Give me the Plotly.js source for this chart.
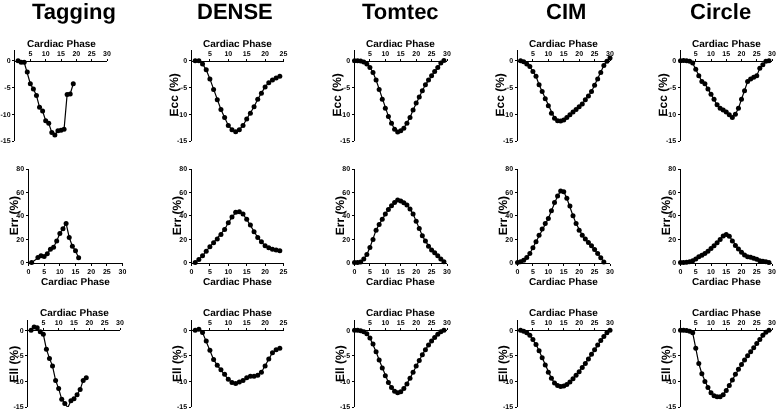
<!DOCTYPE html>
<html><head><meta charset="utf-8">
<script src="https://cdn.plot.ly/plotly-3.0.1.min.js"></script>
<style>html,body{margin:0;padding:0;background:#fff}#chart{will-change:transform}#chart text{text-rendering:geometricPrecision}</style>
</head><body><div id="chart" style="width:778px;height:413px"></div>
<script>
const methods = ["Tagging", "DENSE", "Tomtec", "CIM", "Circle"];
const strainLabels = ["Ecc (%)", "Err (%)", "Ell (%)"];
const xAxisLabel = "Cardiac Phase";

// Tagging
const taggingEccPhase = [1,2,3,4,5,6,7,8,9,10,11,12,13,14,15,16,17,18,19];
const taggingEcc = [0,-0.3,-0.3,-2.1,-4.3,-5.3,-6.5,-8.7,-9.4,-11.2,-11.7,-13.4,-13.9,-13.1,-13.0,-12.8,-6.3,-6.2,-4.3];
const taggingErrPhase = [1,3,4,5,6,7,8,9,10,11,12,13,14,15,16];
const taggingErr = [0,4.3,5.7,5.1,7.4,11.4,13.1,18.3,24.9,28.9,33.4,21.4,14,10,4];
const taggingEllPhase = [1,2,3,4,5,6,7,8,9,10,11,12,13,14,15,16,17,18,19];
const taggingEll = [0,0.65,0.5,-0.3,-0.8,-3.7,-5.5,-7.0,-9.8,-11.4,-13.5,-14.3,-15.1,-13.8,-13.4,-12.6,-11.6,-9.8,-9.3];

// DENSE
const densePhase = [1,2,3,4,5,6,7,8,9,10,11,12,13,14,15,16,17,18,19,20,21,22,23,24];
const denseEcc = [0,0,-0.6,-1.7,-3.4,-5.4,-7.3,-9.1,-10.6,-12.1,-12.9,-13.25,-12.9,-12.1,-10.9,-9.8,-8.6,-7.2,-6.1,-4.9,-4.1,-3.6,-3.25,-2.9];
const denseErr = [0,2.6,5.7,9.7,13.4,16.9,20,24,28.3,34,39,42.9,43.4,41.4,36.9,32,26.3,21.4,17.7,14.3,12.6,11.4,10.6,10];
const denseEll = [0,0.2,-0.45,-2.1,-3.9,-5.7,-6.85,-7.7,-8.6,-9.6,-10.2,-10.4,-10.1,-9.8,-9.3,-9.0,-9.0,-8.8,-8.2,-7.0,-5.6,-4.4,-3.8,-3.5];

// Tomtec
const tomtecPhase = [0,1,2,3,4,5,6,7,8,9,10,11,12,13,14,15,16,17,18,19,20,21,22,23,24,25,26,27,28,29];
const tomtecEcc = [0,0,-0.05,-0.25,-0.6,-1.25,-2.2,-3.6,-5.4,-7.2,-8.9,-10.4,-11.7,-12.8,-13.3,-13.1,-12.6,-11.7,-10.6,-9.2,-7.9,-6.8,-5.6,-4.5,-3.6,-2.8,-2.0,-1.25,-0.45,0.05];
const tomtecErr = [0,0,0.5,2.9,6.9,12.9,19.7,27.7,32.6,36.9,41.4,45.4,48.6,51.4,53.4,52.6,51.1,49.1,45.7,41.4,35.4,29.1,22.9,18.3,14,10.6,8.3,5.7,2.9,0.6];
const tomtecEll = [0,0,-0.1,-0.3,-0.7,-1.5,-2.7,-4.2,-5.8,-7.4,-8.9,-10.2,-11.2,-11.9,-12.2,-12.0,-11.4,-10.5,-9.4,-8.2,-7.0,-5.9,-4.8,-3.8,-2.9,-2.1,-1.4,-0.8,-0.3,0];

// CIM
const cimPhase = [1,2,3,4,5,6,7,8,9,10,11,12,13,14,15,16,17,18,19,20,21,22,23,24,25,26,27,28,29,30];
const cimEcc = [0,-0.2,-0.6,-1.1,-2.0,-2.9,-4.5,-5.75,-7.1,-8.4,-9.8,-10.75,-11.2,-11.25,-11.1,-10.6,-10.1,-9.6,-9.1,-8.6,-8.1,-7.3,-6.6,-5.75,-4.6,-3.4,-2.2,-0.9,-0.1,0.5];
const cimErrPhase = [0,1,2,3,4,5,6,7,8,9,10,11,12,13,14,15,16,17,18,19,20,21,22,23,24,25,26,27,28];
const cimErr = [0,0.6,2,4.3,7.7,12.6,17.7,23.4,28.6,33.4,37.7,44.3,51.4,56.9,61.1,60.6,54.9,48.3,40,33.4,27.7,23.4,20,17.1,14.3,11.1,7.7,4,0.5];
const cimEll = [0,-0.2,-0.5,-1,-1.8,-2.8,-4,-5.4,-6.8,-8.2,-9.4,-10.3,-10.8,-11,-10.9,-10.6,-10.1,-9.5,-8.8,-8.1,-7.3,-6.5,-5.6,-4.7,-3.8,-2.9,-2,-1.2,-0.5,0];

// Circle
const circlePhase = [0,1,2,3,4,5,6,7,8,9,10,11,12,13,14,15,16,17,18,19,20,21,22,23,24,25,26,27,28,29];
const circleEcc = [0,0.05,0,-0.1,-0.45,-1.6,-2.8,-3.9,-4.3,-5.3,-6.25,-7.2,-8.25,-8.9,-9.2,-9.6,-10.1,-10.6,-10.0,-8.9,-7.2,-5.6,-3.9,-3.4,-3.1,-2.8,-1.4,-0.75,-0.1,0];
const circleErr = [0,0,0.3,0.6,1.4,2.9,4.9,6.3,7.7,9.7,12,14.3,16.9,19.7,22.6,24,22.5,18.5,14.5,11.5,8.8,6.5,5,4.4,3.6,2.8,1.6,1.1,0.6,0];
const circleEll = [0,0,-0.05,-0.2,-0.5,-3.5,-6.5,-8.5,-10,-11.2,-12.2,-12.8,-13,-13,-12.6,-11.8,-10.8,-9.7,-8.6,-7.6,-6.7,-5.8,-5,-4.2,-3.4,-2.6,-1.8,-1.0,-0.4,0];

const series = [
  [[taggingEccPhase, taggingEcc], [densePhase, denseEcc], [tomtecPhase, tomtecEcc], [cimPhase, cimEcc], [circlePhase, circleEcc]],
  [[taggingErrPhase, taggingErr], [densePhase, denseErr], [tomtecPhase, tomtecErr], [cimErrPhase, cimErr], [circlePhase, circleErr]],
  [[taggingEllPhase, taggingEll], [densePhase, denseEll], [tomtecPhase, tomtecEll], [cimPhase, cimEll], [circlePhase, circleEll]]
];
const xMax = [30, 25, 30, 30, 30];
const yTicks = [[0,-5,-10,-15],[0,20,40,60,80],[0,-5,-10,-15]];
const yRanges = [[-15,2],[0,80],[-15,2]];

// ---- layout geometry (pixels) ----
const W = 778, H = 413;
const colPx = [
  [[15,107],[28.5,122.5],[28,120]],
  [[191.5,283.5],[191.5,283.5],[191.5,283.5]],
  [[354.5,447],[354.5,447],[354.5,447]],
  [[517.5,610],[517.5,610],[517.5,610]],
  [[680.5,772],[680.5,772],[680.5,772]]
];
const rowPx = [[50,141],[169,262.5],[320,407]]; // top,bottom
const titleCx = [73.5, 235, 400, 565.5, 720.5];
const px2x = p => p / W;
const px2y = p => 1 - p / H;

const FONT = "Liberation Sans, Arial, sans-serif";
const traces = [];
const layout = {
  width: W, height: H, margin: {l:0,r:0,t:0,b:0},
  paper_bgcolor: "#fff", plot_bgcolor: "#fff",
  colorway: ["#000"],
  showlegend: false, annotations: [],
  font: {family: FONT, color: "#000"}
};

let n = 0;
for (let r = 0; r < 3; r++) {
  for (let c = 0; c < 5; c++) {
    n++;
    const xa = n === 1 ? "x" : "x" + n, ya = n === 1 ? "y" : "y" + n;
    const xk = n === 1 ? "xaxis" : "xaxis" + n, yk = n === 1 ? "yaxis" : "yaxis" + n;
    const [px, py] = series[r][c];
    traces.push({
      type: "scatter", mode: "lines+markers", x: px, y: py, xaxis: xa, yaxis: ya,
      line: {color: "#000", width: 1.2}, marker: {color: "#000", size: 5}, cliponaxis: false,
      hoverinfo: "skip"
    });
    const xd = [px2x(colPx[c][r][0]), px2x(colPx[c][r][1])];
    const yd = [px2y(rowPx[r][1]), px2y(rowPx[r][0])];
    const yr = yRanges[r];
    const xticks = [];
    for (let t = (r === 1 ? 0 : 5); t <= xMax[c]; t += 5) xticks.push(t);
    const common = {
      color: "#000",
      showgrid: false, zeroline: false, showline: true, linecolor: "#000", linewidth: 1,
      ticks: "outside", ticklen: 2, tickwidth: 1, tickcolor: "#000",
      tickfont: {family: FONT, size: 7, color: "#000", weight: "bold"},
      ticklabeloverflow: "allow",
      fixedrange: true
    };
    const xaxis = Object.assign({}, common, {
      domain: xd, range: [0, xMax[c]], tickmode: "array", tickvals: xticks, ticktext: xticks.map(String)
    });
    if (r === 1) {
      xaxis.anchor = ya; xaxis.side = "bottom";
    } else {
      xaxis.anchor = "free"; xaxis.side = "top";
      xaxis.position = yd[0] + (0 - yr[0]) / (yr[1] - yr[0]) * (yd[1] - yd[0]);
    }
    layout[xk] = xaxis;
    layout[yk] = Object.assign({}, common, {
      domain: yd, range: yr, anchor: xa, side: "left",
      tickmode: "array", tickvals: yTicks[r], ticktext: yTicks[r].map(String)
    });
    // x-axis title
    const xCenter = (colPx[c][r][0] + colPx[c][r][1]) / 2;
    const xTitleY = [43.5, 281, 312][r];
    layout.annotations.push({
      xref: "paper", yref: "paper", x: px2x(xCenter), y: px2y(xTitleY),
      xanchor: "center", yanchor: "middle", showarrow: false,
      text: "<b>" + xAxisLabel + "</b>", font: {family: FONT, size: 10, color: "#000"}
    });
    // y-axis title (Tagging Ecc has none)
    if (!(r === 0 && c === 0)) {
      const off = [17.5, 15, 15][r];
      layout.annotations.push({
        xref: "paper", yref: "paper", x: px2x(colPx[c][r][0] - off), y: px2y((rowPx[r][0] + rowPx[r][1]) / 2),
        xanchor: "center", yanchor: "middle", showarrow: false, textangle: -90,
        text: "<b>" + strainLabels[r] + "</b>", font: {family: FONT, size: 12, color: "#000"}
      });
    }
  }
}
// column titles
for (let c = 0; c < 5; c++) {
  layout.annotations.push({
    xref: "paper", yref: "paper", x: px2x(titleCx[c]), y: px2y(12),
    xanchor: "center", yanchor: "middle", showarrow: false,
    text: "<b>" + methods[c] + "</b>", font: {family: FONT, size: 22, color: "#000"}
  });
}
Plotly.newPlot("chart", traces, layout, {staticPlot: true, displayModeBar: false});
</script></body></html>
